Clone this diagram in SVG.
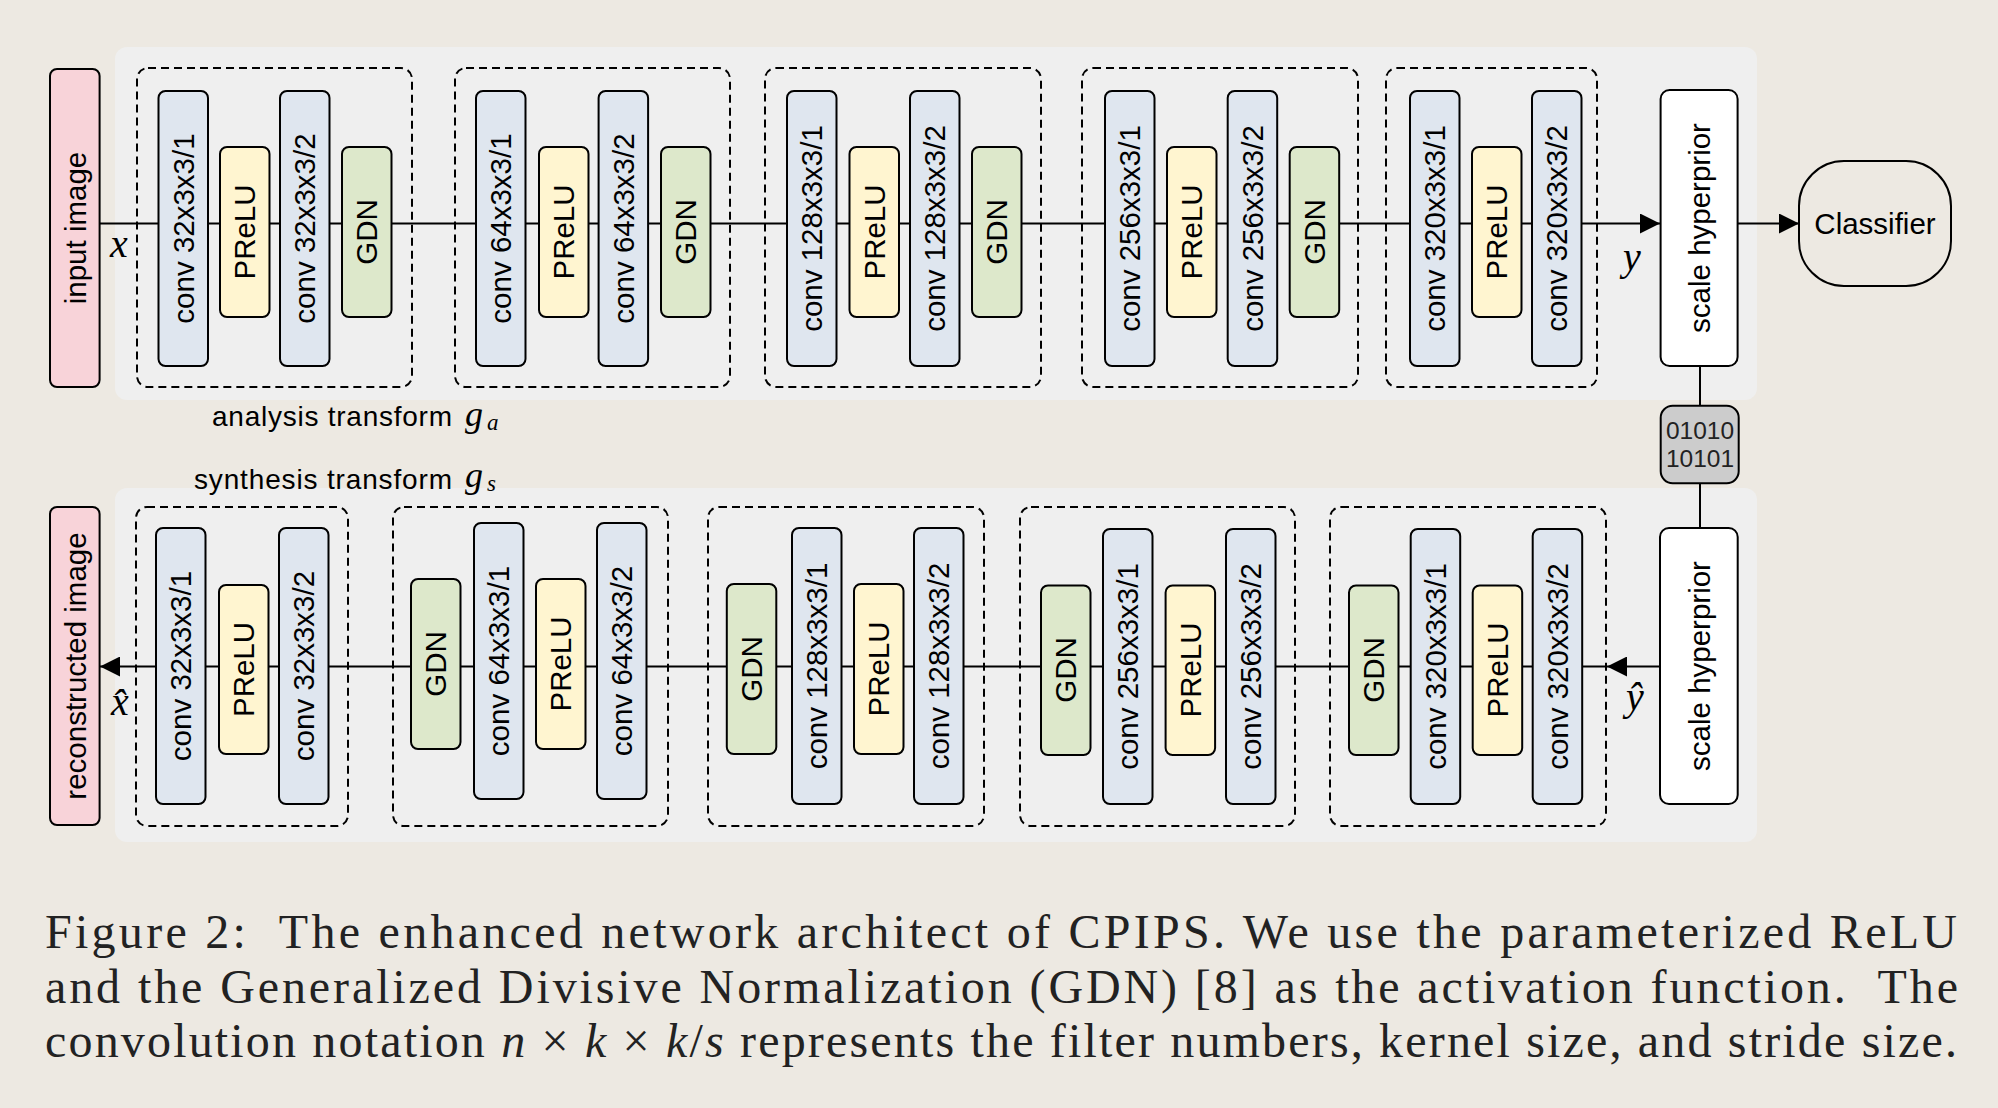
<svg xmlns="http://www.w3.org/2000/svg" width="1998" height="1108" viewBox="0 0 1998 1108">
<style>
.bg{fill:#ede9e2}
.panel{fill:#efefef}
.grp{fill:none;stroke:#000;stroke-width:2;stroke-dasharray:8 5}
.box{stroke:#000;stroke-width:2}
.conv{fill:#dfe6ef}
.prelu{fill:#fff5d0}
.gdn{fill:#dde8cb}
.img{fill:#f8d3d9}
.white{fill:#ffffff}
.bits{fill:#cccccc}
.cls{fill:#ede9e2}
.lbl{font-family:"Liberation Sans",Arial,sans-serif;font-size:29.5px;fill:#000;text-anchor:middle}
.tlbl{font-family:"Liberation Sans",Arial,sans-serif;font-size:28px;fill:#000}
.math{font-family:"Liberation Serif","Times New Roman",serif;font-style:italic;fill:#000}
.cap{font-family:"Liberation Serif","Times New Roman",serif;font-size:48px;fill:#222;white-space:pre}
.edge{stroke:#000;stroke-width:2;fill:none}
</style>
<defs>
<marker id="arrow" markerUnits="userSpaceOnUse" markerWidth="20" markerHeight="20" refX="20" refY="10" orient="auto" viewBox="0 0 20 20">
<path d="M0,0 L20,10 L0,20 z" fill="#000"/>
</marker>
</defs>
<rect class="bg" x="0" y="0" width="1998" height="1108"/>

<g id="panels">
<rect class="panel" x="115" y="47" width="1642" height="353" rx="12"/>
<rect class="panel" x="115" y="488" width="1642" height="354" rx="12"/>
</g>

<g id="groups">
<rect class="grp" x="137" y="68" width="275" height="319" rx="11"/>
<rect class="grp" x="455" y="68" width="275" height="319" rx="11"/>
<rect class="grp" x="765" y="68" width="276" height="319" rx="11"/>
<rect class="grp" x="1082" y="68" width="276" height="319" rx="11"/>
<rect class="grp" x="1386" y="68" width="211" height="319" rx="11"/>
<rect class="grp" x="136" y="507" width="212" height="319" rx="11"/>
<rect class="grp" x="393" y="507" width="275" height="319" rx="11"/>
<rect class="grp" x="708" y="507" width="276" height="319" rx="11"/>
<rect class="grp" x="1020" y="507" width="275" height="319" rx="11"/>
<rect class="grp" x="1330" y="507" width="276" height="319" rx="11"/>
</g>

<g id="connectors">
<path class="edge" d="M99.6,223.5 H1660" marker-end="url(#arrow)"/>
<path class="edge" d="M1738,223.5 H1799" marker-end="url(#arrow)"/>
<path class="edge" d="M1700,366 V406"/>
<path class="edge" d="M1700,483 V528"/>
<path class="edge" d="M1660,666.5 H1607" marker-end="url(#arrow)"/>
<path class="edge" d="M1607,666.5 H100" marker-end="url(#arrow)"/>
</g>

<g id="input-image">
<rect class="box img" x="50" y="69" width="49.6" height="318" rx="7"/>
<text class="lbl" transform="translate(75,228) rotate(-90)" y="10.5">input image</text>
</g>
<g id="reconstructed-image">
<rect class="box img" x="50" y="507" width="49.6" height="318" rx="7"/>
<text class="lbl" transform="translate(75,666) rotate(-90)" y="10.5">reconstructed image</text>
</g>

<!-- analysis transform -->
<g id="a1-conv1"><rect class="box conv" x="158.5" y="91" width="49.5" height="275" rx="7"/><text class="lbl" transform="translate(183.25,228.5) rotate(-90)" y="10.5">conv 32x3x3/1</text></g>
<g id="a1-prelu"><rect class="box prelu" x="220" y="147" width="49.5" height="170" rx="7"/><text class="lbl" transform="translate(244.75,232) rotate(-90)" y="10.5">PReLU</text></g>
<g id="a1-conv2"><rect class="box conv" x="280" y="91" width="49.5" height="275" rx="7"/><text class="lbl" transform="translate(304.75,228.5) rotate(-90)" y="10.5">conv 32x3x3/2</text></g>
<g id="a1-gdn"><rect class="box gdn" x="342" y="147" width="49.5" height="170" rx="7"/><text class="lbl" transform="translate(366.75,232) rotate(-90)" y="10.5">GDN</text></g>

<g id="a2-conv1"><rect class="box conv" x="476" y="91" width="49.5" height="275" rx="7"/><text class="lbl" transform="translate(500.75,228.5) rotate(-90)" y="10.5">conv 64x3x3/1</text></g>
<g id="a2-prelu"><rect class="box prelu" x="539" y="147" width="49.5" height="170" rx="7"/><text class="lbl" transform="translate(563.75,232) rotate(-90)" y="10.5">PReLU</text></g>
<g id="a2-conv2"><rect class="box conv" x="598.6" y="91" width="49.5" height="275" rx="7"/><text class="lbl" transform="translate(623.35,228.5) rotate(-90)" y="10.5">conv 64x3x3/2</text></g>
<g id="a2-gdn"><rect class="box gdn" x="661" y="147" width="49.5" height="170" rx="7"/><text class="lbl" transform="translate(685.75,232) rotate(-90)" y="10.5">GDN</text></g>

<g id="a3-conv1"><rect class="box conv" x="787" y="91" width="49.5" height="275" rx="7"/><text class="lbl" transform="translate(811.75,228.5) rotate(-90)" y="10.5">conv 128x3x3/1</text></g>
<g id="a3-prelu"><rect class="box prelu" x="849.5" y="147" width="49.5" height="170" rx="7"/><text class="lbl" transform="translate(874.25,232) rotate(-90)" y="10.5">PReLU</text></g>
<g id="a3-conv2"><rect class="box conv" x="910" y="91" width="49.5" height="275" rx="7"/><text class="lbl" transform="translate(934.75,228.5) rotate(-90)" y="10.5">conv 128x3x3/2</text></g>
<g id="a3-gdn"><rect class="box gdn" x="972" y="147" width="49.5" height="170" rx="7"/><text class="lbl" transform="translate(996.75,232) rotate(-90)" y="10.5">GDN</text></g>

<g id="a4-conv1"><rect class="box conv" x="1105" y="91" width="49.5" height="275" rx="7"/><text class="lbl" transform="translate(1129.75,228.5) rotate(-90)" y="10.5">conv 256x3x3/1</text></g>
<g id="a4-prelu"><rect class="box prelu" x="1167" y="147" width="49.5" height="170" rx="7"/><text class="lbl" transform="translate(1191.75,232) rotate(-90)" y="10.5">PReLU</text></g>
<g id="a4-conv2"><rect class="box conv" x="1227.7" y="91" width="49.5" height="275" rx="7"/><text class="lbl" transform="translate(1252.45,228.5) rotate(-90)" y="10.5">conv 256x3x3/2</text></g>
<g id="a4-gdn"><rect class="box gdn" x="1289.7" y="147" width="49.5" height="170" rx="7"/><text class="lbl" transform="translate(1314.45,232) rotate(-90)" y="10.5">GDN</text></g>

<g id="a5-conv1"><rect class="box conv" x="1410" y="91" width="49.5" height="275" rx="7"/><text class="lbl" transform="translate(1434.75,228.5) rotate(-90)" y="10.5">conv 320x3x3/1</text></g>
<g id="a5-prelu"><rect class="box prelu" x="1472" y="147" width="49.5" height="170" rx="7"/><text class="lbl" transform="translate(1496.75,232) rotate(-90)" y="10.5">PReLU</text></g>
<g id="a5-conv2"><rect class="box conv" x="1532" y="91" width="49.5" height="275" rx="7"/><text class="lbl" transform="translate(1556.75,228.5) rotate(-90)" y="10.5">conv 320x3x3/2</text></g>

<g id="hyperprior-top"><rect class="box white" x="1660.6" y="90" width="77" height="276" rx="9"/><text class="lbl" transform="translate(1699,228) rotate(-90)" y="10.5">scale hyperprior</text></g>
<g id="classifier"><rect class="box cls" x="1799" y="161" width="152" height="125" rx="45"/><text class="lbl" x="1875" y="234">Classifier</text></g>
<g id="bitstream"><rect class="box bits" x="1660.7" y="405.7" width="78" height="77.5" rx="12"/><text class="lbl" x="1700" y="439" style="font-size:24.5px;fill:#222">01010</text><text class="lbl" x="1700" y="467" style="font-size:24.5px;fill:#222">10101</text></g>
<g id="hyperprior-bottom"><rect class="box white" x="1660" y="528" width="77.7" height="276" rx="9"/><text class="lbl" transform="translate(1699,666) rotate(-90)" y="10.5">scale hyperprior</text></g>

<!-- synthesis transform -->
<g id="s1-conv1"><rect class="box conv" x="156" y="528" width="49.5" height="276" rx="7"/><text class="lbl" transform="translate(180.75,666) rotate(-90)" y="10.5">conv 32x3x3/1</text></g>
<g id="s1-prelu"><rect class="box prelu" x="219" y="585" width="49.5" height="169" rx="7"/><text class="lbl" transform="translate(243.75,669.5) rotate(-90)" y="10.5">PReLU</text></g>
<g id="s1-conv2"><rect class="box conv" x="279" y="528" width="49.5" height="276" rx="7"/><text class="lbl" transform="translate(303.75,666) rotate(-90)" y="10.5">conv 32x3x3/2</text></g>

<g id="s2-gdn"><rect class="box gdn" x="411" y="579" width="49.5" height="170" rx="7"/><text class="lbl" transform="translate(435.75,664) rotate(-90)" y="10.5">GDN</text></g>
<g id="s2-conv1"><rect class="box conv" x="474" y="523" width="49.5" height="276" rx="7"/><text class="lbl" transform="translate(498.75,661) rotate(-90)" y="10.5">conv 64x3x3/1</text></g>
<g id="s2-prelu"><rect class="box prelu" x="536" y="579" width="49.5" height="170" rx="7"/><text class="lbl" transform="translate(560.75,664) rotate(-90)" y="10.5">PReLU</text></g>
<g id="s2-conv2"><rect class="box conv" x="597" y="523" width="49.5" height="276" rx="7"/><text class="lbl" transform="translate(621.75,661) rotate(-90)" y="10.5">conv 64x3x3/2</text></g>

<g id="s3-gdn"><rect class="box gdn" x="726.8" y="584" width="49.5" height="170" rx="7"/><text class="lbl" transform="translate(751.55,669) rotate(-90)" y="10.5">GDN</text></g>
<g id="s3-conv1"><rect class="box conv" x="792" y="528" width="49.5" height="276" rx="7"/><text class="lbl" transform="translate(816.75,666) rotate(-90)" y="10.5">conv 128x3x3/1</text></g>
<g id="s3-prelu"><rect class="box prelu" x="854" y="584" width="49.5" height="170" rx="7"/><text class="lbl" transform="translate(878.75,669) rotate(-90)" y="10.5">PReLU</text></g>
<g id="s3-conv2"><rect class="box conv" x="914" y="528" width="49.5" height="276" rx="7"/><text class="lbl" transform="translate(938.75,666) rotate(-90)" y="10.5">conv 128x3x3/2</text></g>

<g id="s4-gdn"><rect class="box gdn" x="1041" y="585.5" width="49.5" height="169.5" rx="7"/><text class="lbl" transform="translate(1065.75,670) rotate(-90)" y="10.5">GDN</text></g>
<g id="s4-conv1"><rect class="box conv" x="1103" y="529" width="49.5" height="275" rx="7"/><text class="lbl" transform="translate(1127.75,666.5) rotate(-90)" y="10.5">conv 256x3x3/1</text></g>
<g id="s4-prelu"><rect class="box prelu" x="1165.6" y="585.5" width="49.5" height="169.5" rx="7"/><text class="lbl" transform="translate(1190.35,670) rotate(-90)" y="10.5">PReLU</text></g>
<g id="s4-conv2"><rect class="box conv" x="1226" y="529" width="49.5" height="275" rx="7"/><text class="lbl" transform="translate(1250.75,666.5) rotate(-90)" y="10.5">conv 256x3x3/2</text></g>

<g id="s5-gdn"><rect class="box gdn" x="1349" y="585.5" width="49.5" height="169.5" rx="7"/><text class="lbl" transform="translate(1373.75,670) rotate(-90)" y="10.5">GDN</text></g>
<g id="s5-conv1"><rect class="box conv" x="1410.7" y="529" width="49.5" height="275" rx="7"/><text class="lbl" transform="translate(1435.45,666.5) rotate(-90)" y="10.5">conv 320x3x3/1</text></g>
<g id="s5-prelu"><rect class="box prelu" x="1472.7" y="585.5" width="49.5" height="169.5" rx="7"/><text class="lbl" transform="translate(1497.45,670) rotate(-90)" y="10.5">PReLU</text></g>
<g id="s5-conv2"><rect class="box conv" x="1532.7" y="529" width="49.5" height="275" rx="7"/><text class="lbl" transform="translate(1557.45,666.5) rotate(-90)" y="10.5">conv 320x3x3/2</text></g>

<g id="labels">
<text class="math" x="110" y="257" style="font-size:40px">x</text>
<text class="math" x="1623" y="270" style="font-size:40px">y</text>
<text class="math" x="111" y="715" style="font-size:40px">x̂</text>
<text class="math" x="1626" y="710" style="font-size:40px">ŷ</text>
<text class="tlbl" x="212" y="426" textLength="240" lengthAdjust="spacing">analysis transform</text>
<text class="math" x="465" y="426" style="font-size:36px">g</text>
<text class="math" x="487" y="430" style="font-size:23px">a</text>
<text class="tlbl" x="194" y="489" textLength="258" lengthAdjust="spacing">synthesis transform</text>
<text class="math" x="465" y="487" style="font-size:36px">g</text>
<text class="math" x="487" y="491" style="font-size:23px">s</text>
</g>

<g id="caption">
<text class="cap" x="45" y="948" textLength="1912" lengthAdjust="spacing" xml:space="preserve">Figure 2:  The enhanced network architect of CPIPS. We use the parameterized ReLU</text>
<text class="cap" x="45" y="1003" textLength="1913" lengthAdjust="spacing" xml:space="preserve">and the Generalized Divisive Normalization (GDN) [8] as the activation function.  The</text>
<text class="cap" x="45" y="1057" textLength="1912" lengthAdjust="spacing" xml:space="preserve">convolution notation <tspan font-style="italic">n</tspan> × <tspan font-style="italic">k</tspan> × <tspan font-style="italic">k</tspan>/<tspan font-style="italic">s</tspan> represents the filter numbers, kernel size, and stride size.</text>
</g>
</svg>
